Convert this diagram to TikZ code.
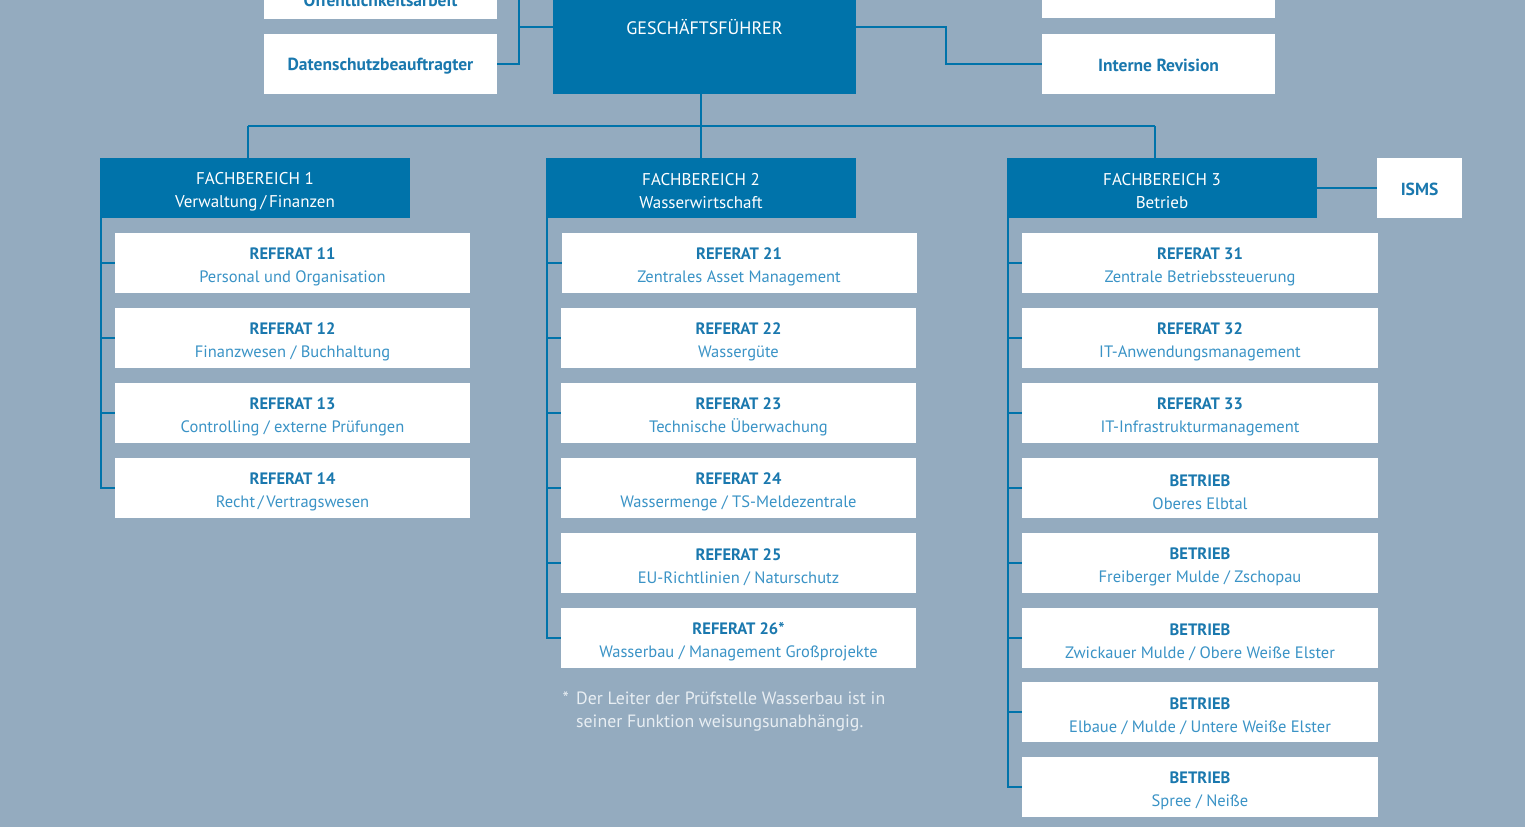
\documentclass[tikz,border=0pt]{standalone}
\usepackage{fontspec}
\setmainfont{PT Sans}
\definecolor{bg}{HTML}{94ABBF}
\definecolor{dblue}{HTML}{0073AA}
\definecolor{tblue}{HTML}{1A78AE}
\definecolor{sblue}{HTML}{3A93C6}
\definecolor{note}{HTML}{E8EEF3}
\newcommand\rf[2]{{\rule{0pt}{20pt}\bfseries #1}\\{\color{sblue}#2}}
\newcommand\upr[1]{\rule{0pt}{#1pt}}
\begin{document}
\begin{tikzpicture}[x=1pt,y=-1pt,
  wbox/.style={fill=white,inner sep=0pt,outer sep=0pt,minimum height=60pt,align=center,text=tblue,
    font=\fontsize{16.5}{23}\selectfont},
  rbox/.style={wbox,minimum width=355pt},
  fbbox/.style={fill=dblue,text=white,inner sep=0pt,outer sep=0pt,minimum width=310pt,minimum height=60pt,
    align=center,font=\fontsize{17}{23}\selectfont},
  conn/.style={draw=dblue,line width=2.5pt},
  stabtext/.style={font=\fontsize{17.5}{23}\selectfont\bfseries,text=tblue}]
\fill[bg] (0,0) rectangle (1525,827);
\useasboundingbox (0,0) rectangle (1525,827);
\clip (0,0) rectangle (1525,827);

% top level
\node[fill=dblue,inner sep=0pt,outer sep=0pt,minimum width=303pt,minimum height=130pt] (gf) at (704.5,29) {};
\node[text=white,font=\fontsize{18}{23}\selectfont] (gft) at (704.5,27) {GESCHÄFTSFÜHRER};
\node[wbox,minimum width=233pt,minimum height=40pt,stabtext] (oa) at (380.5,-1) {Öffentlichkeitsarbeit};
\node[wbox,minimum width=233pt,minimum height=40pt] (tr) at (1158.5,-2) {};
\node[wbox,minimum width=233pt,stabtext] (ds) at (380.5,64) {\upr{16}Datenschutzbeauftragter};
\node[wbox,minimum width=233pt,stabtext] (ir) at (1158.5,64) {\upr{16}Interne Revision};

\coordinate (jl) at (519,27);
\coordinate (jr) at (946,27);
\draw[conn] (gf.west |- jl) -- (jl);
\draw[conn] (oa.east) -| (jl) |- (ds.east);
\draw[conn] (gf.east |- jr) -- (jr) |- (ir.west);

% Fachbereiche
\node[fbbox] (fb1) at (255,188) {\upr{19}FACHBEREICH 1\\Verwaltung\,/\,Finanzen};
\node[fbbox] (fb2) at (701,188) {\upr{19}FACHBEREICH 2\\Wasserwirtschaft};
\node[fbbox] (fb3) at (1162,188) {\upr{19}FACHBEREICH 3\\Betrieb};
\node[wbox,minimum width=85pt,stabtext] (isms) at (1419.5,188) {\upr{15}ISMS};
\draw[conn] (fb3.east) -- (isms.west);

\coordinate (b1) at (248,126);
\coordinate (b2) at (701,126);
\coordinate (b3) at (1155,126);
\draw[conn] (gf.south -| b2) -- (b2);
\draw[conn] (b1) -- (b3);
\draw[conn] (b1) -- (b1 |- fb1.north);
\draw[conn] (b2) -- (b2 |- fb2.north);
\draw[conn] (b3) -- (b3 |- fb3.north);

% column 1
\node[rbox] (r11) at (292.5,263) {\rf{REFERAT 11}{Personal und Organisation}};
\node[rbox] (r12) at (292.5,338) {\rf{REFERAT 12}{Finanzwesen / Buchhaltung}};
\node[rbox] (r13) at (292.5,413) {\rf{REFERAT 13}{Controlling / externe Prüfungen}};
\node[rbox] (r14) at (292.5,488) {\rf{REFERAT 14}{Recht\,/\,Vertragswesen}};
\coordinate (c1) at (101,218);
\draw[conn] (c1) |- (r14.west);
\foreach \n in {r11,r12,r13} \draw[conn] (c1 |- \n.west) -- (\n.west);

% column 2
\node[rbox] (r21) at (739,263) {\rf{REFERAT 21}{Zentrales Asset Management}};
\node[rbox] (r22) at (738.5,338) {\rf{REFERAT 22}{Wassergüte}};
\node[rbox] (r23) at (738.5,413) {\rf{REFERAT 23}{Technische Überwachung}};
\node[rbox] (r24) at (738.5,488) {\rf{REFERAT 24}{Wassermenge / TS-Meldezentrale}};
\node[rbox] (r25) at (738.5,563) {\rf{REFERAT 25}{EU-Richtlinien / Naturschutz}};
\node[rbox] (r26) at (738.5,638) {\rf{REFERAT 26*}{Wasserbau / Management Großprojekte}};
\coordinate (c2) at (547,218);
\draw[conn] (c2) |- (r26.west);
\foreach \n in {r21,r22,r23,r24,r25} \draw[conn] (c2 |- \n.west) -- (\n.west);

\node[anchor=north west,text=note,align=left,inner sep=0pt,font=\fontsize{17.8}{23}\selectfont] (fn) at (576,692)
  {Der Leiter der Prüfstelle Wasserbau ist in\\seiner Funktion weisungsunabhängig.};
\node[anchor=north east,text=note,inner sep=0pt,font=\fontsize{17.8}{23}\selectfont] (fnstar) at (569,692) {*};

% column 3
\node[rbox,minimum width=356pt] (r31) at (1200,263) {\rf{REFERAT 31}{Zentrale Betriebssteuerung}};
\node[rbox,minimum width=356pt] (r32) at (1200,338) {\rf{REFERAT 32}{IT-Anwendungsmanagement}};
\node[rbox,minimum width=356pt] (r33) at (1200,413) {\rf{REFERAT 33}{IT-Infrastrukturmanagement}};
\node[rbox,minimum width=356pt] (b1n) at (1200,488) {\rf{BETRIEB}{Oberes Elbtal}};
\node[rbox,minimum width=356pt] (b2n) at (1200,563) {\rf{BETRIEB}{Freiberger Mulde / Zschopau}};
\node[rbox,minimum width=356pt] (b3n) at (1200,638) {\rf{BETRIEB}{Zwickauer Mulde / Obere Weiße Elster}};
\node[rbox,minimum width=356pt] (b4n) at (1200,712) {\rf{BETRIEB}{Elbaue / Mulde / Untere Weiße Elster}};
\node[rbox,minimum width=356pt] (b5n) at (1200,787) {\rf{BETRIEB}{Spree / Neiße}};
\coordinate (c3) at (1008,218);
\draw[conn] (c3) |- (b5n.west);
\foreach \n in {r31,r32,r33,b1n,b2n,b3n,b4n} \draw[conn] (c3 |- \n.west) -- (\n.west);
\end{tikzpicture}
\end{document}
